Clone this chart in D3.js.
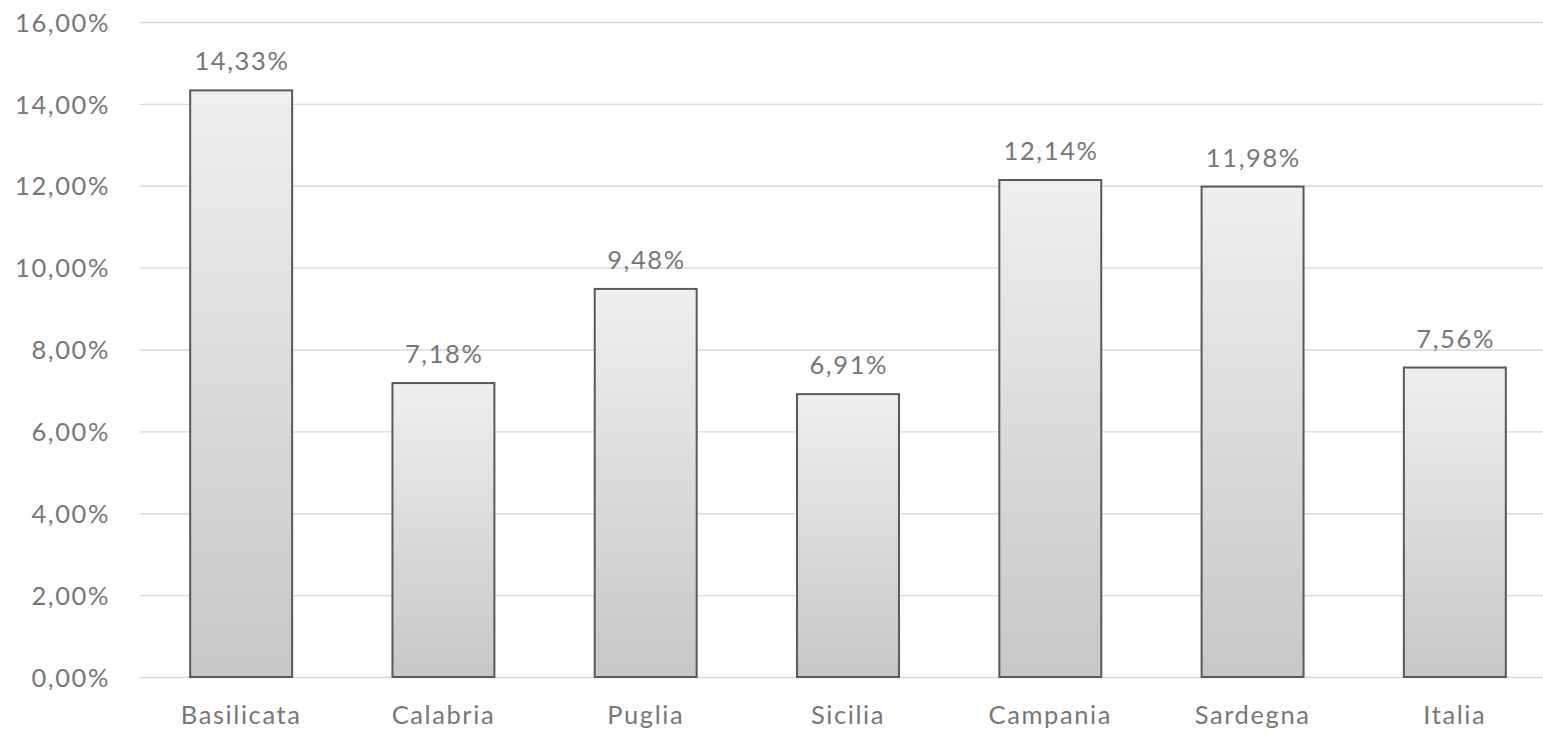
<!DOCTYPE html>
<html><head><meta charset="utf-8">
<script src="https://cdn.jsdelivr.net/npm/d3@7"></script>
<style>body{margin:0;background:#fff;} text{font-family:Lato,"Liberation Sans",sans-serif;}</style>
</head><body><svg id="c" width="1543" height="734"></svg>
<script>
const categories = ["Basilicata","Calabria","Puglia","Sicilia","Campania","Sardegna","Italia"];
const values = [14.33,7.18,9.48,6.91,12.14,11.98,7.56];
const yTicks = [0,2,4,6,8,10,12,14,16];

const svg = d3.select("#c");
const W = 1543, H = 734;
const plotLeft = 140, plotRight = 1543, y0 = 677, yTop = 22;
const x = d3.scaleBand().domain(categories).range([140, 1556]).paddingInner(0.496).paddingOuter(0.248);
const y = d3.scaleLinear().domain([0,16]).range([y0, yTop]);
const fmt = v => d3.format(".2f")(v).replace(".", ",") + "%";
const FS = 25.5, LS = 1.6, COL = "#777777";

const defs = svg.append("defs");
const g = defs.append("linearGradient").attr("id","grad").attr("x1",0).attr("y1",0).attr("x2",0).attr("y2",1);
g.append("stop").attr("offset","0%").attr("stop-color","#efefef");
g.append("stop").attr("offset","100%").attr("stop-color","#c7c7c7");

const yAxis = svg.append("g").attr("transform",`translate(${plotLeft},0)`)
  .call(d3.axisLeft(y).tickValues(yTicks).tickFormat(fmt).tickSize(-(plotRight-plotLeft)).tickPadding(30));
yAxis.select(".domain").remove();
yAxis.selectAll("line").attr("stroke","#d9d9d9").attr("stroke-width",1.3);
yAxis.selectAll("text").attr("fill",COL).attr("font-size",FS).attr("letter-spacing",LS)
  .attr("font-family","Lato,'Liberation Sans',sans-serif").attr("dy","0.36em");

const xAxis = svg.append("g").attr("transform",`translate(0,${y0})`)
  .call(d3.axisBottom(x).tickSize(0).tickPadding(29));
xAxis.select(".domain").remove();
xAxis.selectAll("text").attr("fill",COL).attr("font-size",FS).attr("letter-spacing",LS)
  .attr("font-family","Lato,'Liberation Sans',sans-serif");

svg.selectAll("rect.bar").data(values).join("rect").attr("class","bar")
  .attr("x",(d,i)=>x(categories[i])).attr("width",x.bandwidth())
  .attr("y",d=>y(d)).attr("height",d=>y(0)-y(d))
  .attr("fill","url(#grad)").attr("stroke","#595959").attr("stroke-width",2);

svg.selectAll("text.lbl").data(values).join("text").attr("class","lbl")
  .attr("x",(d,i)=>x(categories[i])+x.bandwidth()/2+LS/2).attr("y",d=>y(d)-20)
  .attr("text-anchor","middle").attr("fill",COL).attr("font-size",FS).attr("letter-spacing",LS)
  .text(fmt);
</script></body></html>
